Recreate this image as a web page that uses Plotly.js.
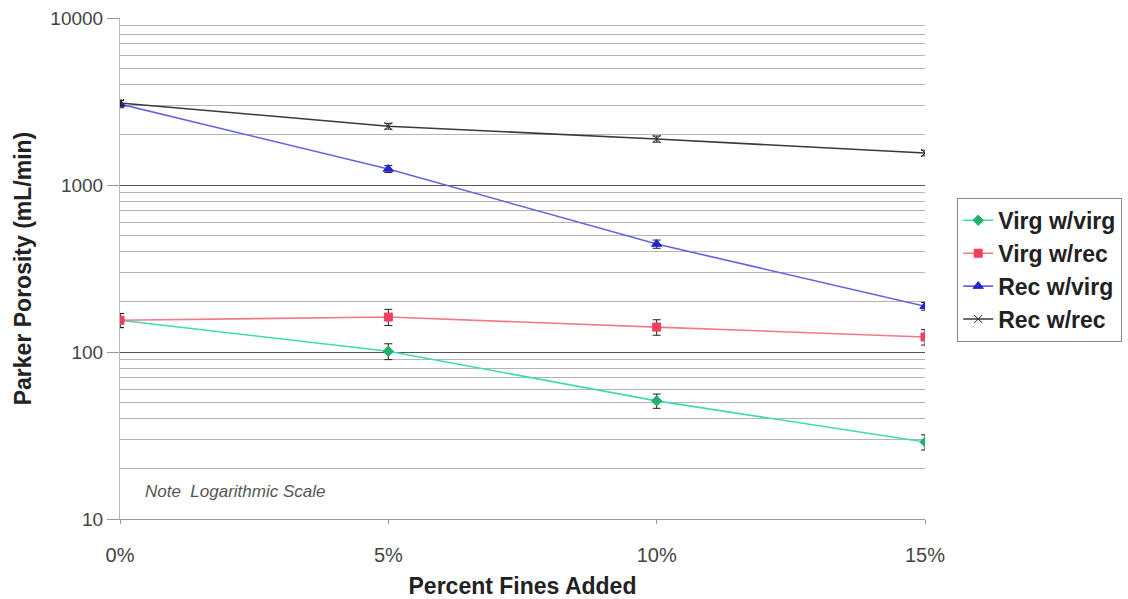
<!DOCTYPE html>
<html>
<head>
<meta charset="utf-8">
<script src="https://cdn.plot.ly/plotly-3.0.1.min.js"></script>
<style>html,body{margin:0;padding:0;background:#fff;}#chart{width:1128px;height:599px;}</style>
</head>
<body>
<div id="chart"></div>
<script>
// Percent fines added
const fines = [0, 5, 10, 15];
const tickLabels = ["0%", "5%", "10%", "15%"];

// Parker porosity (mL/min) and error half-widths
const virgVirg = [155, 101, 51, 28.9];
const virgVirgErr = [15, 11, 5, 3];
const virgRec = [155, 162, 141, 123];
const virgRecErr = [15, 18, 15, 13];
const recVirg = [3050, 1247, 443, 188];
const recVirgErr = [150, 60, 25, 10];
const recRec = [3100, 2250, 1885, 1555];
const recRecErr = [120, 90, 80, 60];

const yTicks = [10, 100, 1000, 10000];
const minorTicks = [];
[10, 100, 1000].forEach(d => { for (let k = 2; k <= 9; k++) minorTicks.push(d * k); });

function series(name, y, err, lineColor, markerColor, symbol, size) {
  return {
    type: "scatter", mode: "lines+markers", name: name,
    x: fines, y: y,
    line: {color: lineColor, width: 1.6},
    marker: {color: markerColor, symbol: symbol, size: size, line: {color: markerColor, width: 1}},
    error_y: {type: "data", array: err, visible: true, color: "#222", thickness: 1, width: 4}
  };
}

const data = [
  series("Virg w/virg", virgVirg, virgVirgErr, "#3ddcb4", "#1fb36a", "diamond", 8),
  series("Virg w/rec", virgRec, virgRecErr, "#f07a8a", "#f0405a", "square", 8),
  series("Rec w/virg", recVirg, recVirgErr, "#6464e0", "#2424d4", "triangle-up", 9),
  series("Rec w/rec", recRec, recRecErr, "#3a3a3a", "#222", "x-thin-open", 8)
];

const layout = {
  width: 1128, height: 599,
  margin: {l: 120, r: 203, t: 18, b: 80, autoexpand: false},
  paper_bgcolor: "#fff", plot_bgcolor: "#fff",
  font: {family: "Liberation Sans, Arial, sans-serif", color: "#333"},
  xaxis: {
    range: [0, 15], tickvals: fines, ticktext: tickLabels,
    showgrid: false, zeroline: false,
    showline: true, linecolor: "#999", linewidth: 1,
    ticks: "outside", ticklen: 4, tickcolor: "#999",
    ticklabelstandoff: 14,
    tickfont: {size: 20, color: "#444"},
    title: {text: "<b>Percent Fines Added</b>", font: {size: 23, color: "#222"}, standoff: 12}
  },
  yaxis: {
    type: "log", range: [1, 4],
    tickvals: yTicks, ticktext: yTicks.map(String),
    showgrid: true, gridcolor: "#555", gridwidth: 1,
    minor: {tickvals: minorTicks, showgrid: true, gridcolor: "#b4b4b4", gridwidth: 1, ticks: ""},
    showline: true, linecolor: "#bbb", linewidth: 1,
    ticks: "outside", ticklen: 12, tickcolor: "#999",
    tickfont: {size: 19, color: "#444"},
    title: {text: "<b>Parker Porosity (mL/min)</b>", font: {size: 23, color: "#222"}, standoff: 12}
  },
  legend: {
    x: 1.04, y: 0.641, xanchor: "left", yanchor: "top",
    bordercolor: "#888", borderwidth: 1, bgcolor: "#fff",
    font: {size: 23, color: "#222", family: "Liberation Sans, Arial, sans-serif", weight: "bold"},
    itemwidth: 30, tracegroupgap: 0
  },
  annotations: [{
    xref: "paper", yref: "paper", x: 0.028, y: 0.055, xanchor: "left", yanchor: "middle",
    text: "<i>Note  Logarithmic Scale</i>", showarrow: false,
    font: {size: 17, color: "#555"}
  }],
  showlegend: true
};

Plotly.newPlot("chart", data, layout, {displayModeBar: false, staticPlot: true});
</script>
</body>
</html>
